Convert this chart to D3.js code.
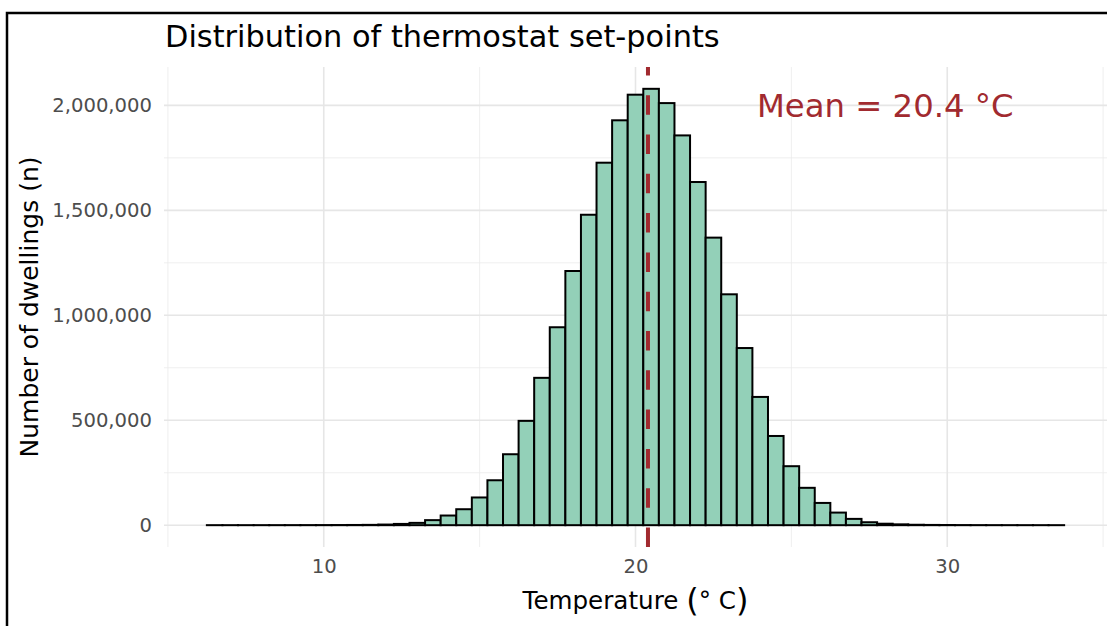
<!DOCTYPE html>
<html>
<head>
<meta charset="utf-8">
<script src="https://cdn.jsdelivr.net/npm/d3@7"></script>
<style>
  body { margin: 0; background: #fff; }
  svg { display: block; font-family: "DejaVu Sans", sans-serif; }
</style>
</head>
<body>
<script>
// bin centres (0.5 °C wide bins) and counts
const binCentres = d3.range(6.5, 33.51, 0.5);
const binCounts = [
  50, 80, 100, 150, 200, 300, 400, 500, 700, 1000,
  1500, 3000, 6000, 11000, 24000, 46000, 76000, 132000, 214000, 338000,
  497000, 702000, 943000, 1211000, 1479000, 1727000, 1929000, 2051000, 2079000, 2011000,
  1857000, 1635000, 1370000, 1100000, 844000, 611000, 425000, 281000, 178000, 106000,
  60000, 30000, 14000, 7000, 4000, 2000, 1200, 800, 500, 300,
  200, 150, 100, 80, 50
];
const binWidth = 0.5;
const meanTemp = 20.4;
const xMajor = [10, 20, 30];
const xMinor = [5, 15, 25, 35];
const yMajor = [0, 500000, 1000000, 1500000, 2000000];
const yMinor = [250000, 750000, 1250000, 1750000];

const width = 1107, height = 626;
const panel = { left: 164, right: 1107, top: 67, bottom: 547 };

const bins = binCentres.map((c, i) => ({ x0: c - binWidth / 2, x1: c + binWidth / 2, n: binCounts[i] }));

const xLo = d3.min(bins, d => d.x0), xHi = d3.max(bins, d => d.x1);
const xPad = (xHi - xLo) * 0.05;
const x = d3.scaleLinear()
  .domain([xLo - xPad, xHi + xPad])
  .range([panel.left, panel.right]);

const yMax = d3.max(binCounts);
const y = d3.scaleLinear()
  .domain([-0.05 * yMax, 1.05 * yMax])
  .range([panel.bottom, panel.top]);

const svg = d3.select('body').append('svg')
  .attr('width', width)
  .attr('height', height);

svg.append('rect').attr('width', width).attr('height', height).attr('fill', '#fff');

// grid
const grid = svg.append('g');
grid.selectAll('.xminor').data(xMinor).join('line')
  .attr('x1', d => x(d)).attr('x2', d => x(d))
  .attr('y1', panel.top).attr('y2', panel.bottom)
  .attr('stroke', '#ebebeb').attr('stroke-width', 0.8);
grid.selectAll('.yminor').data(yMinor).join('line')
  .attr('x1', panel.left).attr('x2', panel.right)
  .attr('y1', d => y(d)).attr('y2', d => y(d))
  .attr('stroke', '#ebebeb').attr('stroke-width', 0.8);
grid.selectAll('.xmajor').data(xMajor).join('line')
  .attr('x1', d => x(d)).attr('x2', d => x(d))
  .attr('y1', panel.top).attr('y2', panel.bottom)
  .attr('stroke', '#e6e6e6').attr('stroke-width', 1.6);
grid.selectAll('.ymajor').data(yMajor).join('line')
  .attr('x1', panel.left).attr('x2', panel.right)
  .attr('y1', d => y(d)).attr('y2', d => y(d))
  .attr('stroke', '#e6e6e6').attr('stroke-width', 1.6);

// bars
svg.append('g')
  .selectAll('rect')
  .data(bins)
  .join('rect')
  .attr('x', d => x(d.x0))
  .attr('width', d => x(d.x1) - x(d.x0))
  .attr('y', d => y(d.n))
  .attr('height', d => y(0) - y(d.n))
  .attr('fill', '#93d0b8')
  .attr('stroke', '#000')
  .attr('stroke-width', 2);

// mean line
svg.append('line')
  .attr('x1', x(meanTemp)).attr('x2', x(meanTemp))
  .attr('y1', panel.bottom).attr('y2', panel.top)
  .attr('stroke', '#a12a2f')
  .attr('stroke-width', 4)
  .attr('stroke-dasharray', '19.5,19.8');

svg.append('text')
  .attr('x', 757).attr('y', 117)
  .attr('fill', '#a12a2f')
  .style('font-size', '32.3px')
  .text(`Mean = ${meanTemp} °C`);

// axes (text only, theme_minimal style)
const fmt = d3.format(',');
const xAxis = svg.append('g')
  .attr('transform', `translate(0,${panel.bottom})`)
  .call(d3.axisBottom(x).tickValues(xMajor).tickSize(0).tickPadding(12));
const yAxis = svg.append('g')
  .attr('transform', `translate(${panel.left},0)`)
  .call(d3.axisLeft(y).tickValues(yMajor).tickFormat(fmt).tickSize(0).tickPadding(12));
[xAxis, yAxis].forEach(a => {
  a.select('.domain').remove();
  a.selectAll('text')
    .attr('fill', '#4d4d4d')
    .style('font-size', '19.6px')
    .style('font-family', '"DejaVu Sans", sans-serif');
});

// titles
svg.append('text')
  .attr('x', 165).attr('y', 47)
  .style('font-size', '30.4px')
  .attr('fill', '#000')
  .text('Distribution of thermostat set-points');

const xt = svg.append('text')
  .attr('x', (panel.left + panel.right) / 2).attr('y', 609)
  .attr('text-anchor', 'middle')
  .style('font-size', '24.6px')
  .attr('fill', '#000');
xt.append('tspan').text('Temperature ');
xt.append('tspan').style('font-size', '32px').attr('dy', 2).text('(');
xt.append('tspan').attr('dy', -2).text('° C');
xt.append('tspan').style('font-size', '32px').attr('dy', 2).text(')');

svg.append('text')
  .attr('transform', `translate(38,${(panel.top + panel.bottom) / 2}) rotate(-90)`)
  .attr('text-anchor', 'middle')
  .style('font-size', '25px')
  .attr('fill', '#000')
  .text('Number of dwellings (n)');

// outer frame (only top and left edges visible in the crop)
svg.append('path')
  .attr('d', `M7,${height} V13 H${width}`)
  .attr('fill', 'none')
  .attr('stroke', '#000')
  .attr('stroke-width', 2.5);
</script>
</body>
</html>
